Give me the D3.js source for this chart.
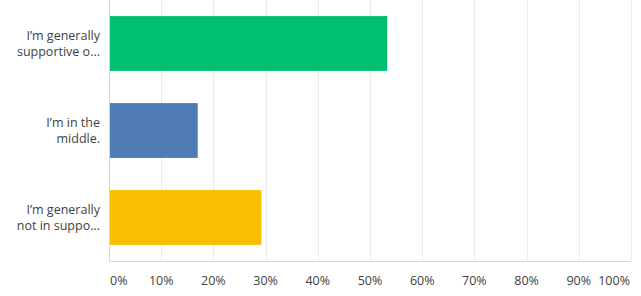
<!DOCTYPE html>
<html>
<head>
<meta charset="utf-8">
<script src="https://cdn.jsdelivr.net/npm/d3@7"></script>
<style>
  body { margin: 0; background: #fff; }
  svg { display: block; font-family: "Open Sans", sans-serif; }
  .grid line { stroke: #ebebeb; stroke-width: 1; }
  .cat text, .xlab text { fill: #3f3f3f; font-size: 12.5px; }
</style>
</head>
<body>
<script>
// answer choices (two-line labels as shown)
var categories = [
  ["I\u2019m generally", "supportive o..."],
  ["I\u2019m in the", "middle."],
  ["I\u2019m generally", "not in suppo..."]
];
var values = [53.3, 17.0, 29.2]; // percent of responses
var colors = ["#00bf6f", "#507cb6", "#f9be00"];
var ticks = [0, 10, 20, 30, 40, 50, 60, 70, 80, 90, 100];

drawChart();

function drawChart(){
  var w = 641, h = 296;
  var plotLeft = 109, plotRight = 631, plotTop = 0, plotBottom = 261;

  var svg = d3.select("body").append("svg")
    .attr("width", w)
    .attr("height", h);

  var x = d3.scaleLinear().domain([0, 100]).range([plotLeft, plotRight]);
  var y = d3.scaleBand()
    .domain(d3.range(values.length))
    .range([plotTop, plotBottom])
    .paddingInner(0.37)
    .paddingOuter(0.185);

  // vertical gridlines
  svg.append("g").attr("class", "grid")
    .selectAll("line")
    .data(ticks.slice(1))
    .enter().append("line")
    .attr("x1", function(d){ return Math.round(x(d)) + 0.5; })
    .attr("x2", function(d){ return Math.round(x(d)) + 0.5; })
    .attr("y1", plotTop)
    .attr("y2", plotBottom);

  // plot frame: left and bottom lines
  svg.append("path")
    .attr("d", "M" + (plotLeft + 0.5) + "," + plotTop + "V" + (plotBottom + 0.5) + "H" + plotRight)
    .attr("fill", "none")
    .attr("stroke", "#d6d6d6");

  // bars
  svg.append("g").selectAll("rect")
    .data(values)
    .enter().append("rect")
    .attr("x", x(0) + 1)
    .attr("y", function(d, i){ return y(i); })
    .attr("width", function(d){ return x(d) - x(0) - 1; })
    .attr("height", y.bandwidth())
    .attr("fill", function(d, i){ return colors[i]; });

  // category labels, right aligned, one text per line
  var cat = svg.append("g").attr("class", "cat")
    .selectAll("g")
    .data(categories)
    .enter().append("g")
    .attr("transform", function(d, i){
      return "translate(100," + (y(i) + y.bandwidth() / 2) + ")";
    });
  cat.selectAll("text")
    .data(function(d){ return d; })
    .enter().append("text")
    .attr("text-anchor", "end")
    .attr("x", 0)
    .attr("y", function(d, j){ return j === 0 ? -4 : 12; })
    .text(function(d){ return d; });

  // x tick labels, justified at the ends
  svg.append("g").attr("class", "xlab")
    .selectAll("text")
    .data(ticks)
    .enter().append("text")
    .attr("y", 285)
    .text(function(d){ return d + "%"; })
    .attr("text-anchor", function(d){
      return d === 0 ? "start" : (d === 100 ? "end" : "middle");
    })
    .attr("x", function(d){
      if (d === 0) return x(d) + 1;
      if (d === 100) return x(d) - 1;
      return x(d);
    });
}
</script>
</body>
</html>
